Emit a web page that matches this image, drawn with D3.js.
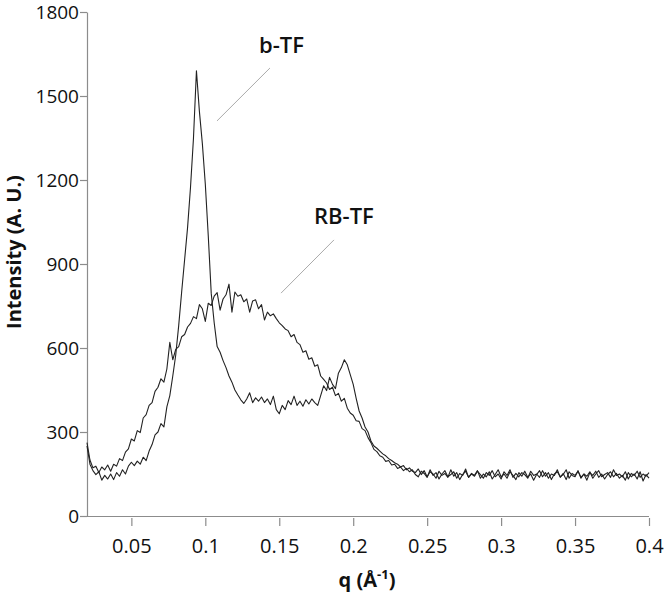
<!DOCTYPE html>
<html>
<head>
<meta charset="utf-8">
<script src="https://cdn.jsdelivr.net/npm/d3@7"></script>
<style>
  body { margin: 0; background: #fff; }
  svg { display: block; font-family: "Open Sans", sans-serif; }
</style>
</head>
<body>
<svg id="chart" width="666" height="600"></svg>
<script>
// q grid of the scan (A^-1)
var qStart = 0.02, qStep = 0.002;

// b-TF intensity
var bTF = [
  250,185,162,148,158,128,145,132,150,130,155,142,165,150,178,192,180,196,185,210,
  198,232,255,290,300,330,318,390,430,500,575,680,800,915,1030,1175,1350,1590,1445,1330,
  1185,1000,795,690,605,585,555,530,500,478,450,432,415,402,418,440,405,422,410,425,
  405,418,398,428,380,365,395,380,412,398,428,395,410,392,415,400,418,405,395,430,
  465,448,495,470,455,510,530,558,540,505,470,420,375,350,318,300,268,250,242,232,
  222,215,205,198,190,185,175,180,165,172,160,
  155,168,148,162,140,158,150,135,160,145,
  152,138,165,142,155,130,148,160,138,152,
  145,162,135,150,140,158,132,148,165,140,
  150,135,158,145,130,155,142,160,138,150,
  128,148,162,140,155,135,150,145,165,138,
  152,130,158,145,140,162,135,150,128,155,
  145,160,138,150,132,148,158,140,152,135,
  145,128,155,140,150,132,158,125,148,135
];

// RB-TF intensity
var rbTF = [
  262,200,172,178,155,175,165,182,160,185,178,205,198,228,240,275,268,305,298,350,
  362,395,405,445,460,490,478,525,620,558,595,605,640,648,675,688,712,705,755,740,
  695,760,752,785,798,735,775,790,828,728,800,785,790,765,775,728,768,772,740,755,
  700,728,715,722,705,690,680,668,662,640,648,620,612,585,590,560,565,535,540,500,
  488,475,452,460,430,438,410,420,385,368,360,340,338,312,305,280,262,238,230,215,
  210,195,198,182,185,170,175,162,170,158,165,
  148,140,160,152,138,165,145,155,132,150,
  162,140,148,158,135,152,145,168,138,150,
  142,160,148,135,155,145,162,140,150,132,
  158,145,165,138,152,140,155,148,135,160,
  145,150,138,162,142,155,130,150,158,140,
  148,165,135,152,145,160,138,150,142,158,
  135,150,162,140,148,155,138,165,145,150,
  140,158,132,152,145,160,138,150,142,155
];

var xTicks = [0.05, 0.1, 0.15, 0.2, 0.25, 0.3, 0.35, 0.4];
var yTicks = [0, 300, 600, 900, 1200, 1500, 1800];

// labels with leader lines, in data units
var labels = [
  {text: "b-TF",  q: 0.1363, v: 1654, q1: 0.1437, v1: 1600, q2: 0.1079, v2: 1411},
  {text: "RB-TF", q: 0.1735, v: 1043, q1: 0.187,  v1: 986,  q2: 0.1512, v2: 796}
];

var svg = d3.select("#chart");
var axisColor = "#8c8c8c";

var x = d3.scaleLinear().domain([0.02, 0.4]).range([87, 649]);
var y = d3.scaleLinear().domain([0, 1800]).range([516, 12]);

function toPoints(vals) {
  return vals.map(function(v, i) { return [qStart + i * qStep, v]; });
}

var line = d3.line()
    .x(function(d) { return x(d[0]); })
    .y(function(d) { return y(d[1]); });

// y axis
var gy = svg.append("g")
    .attr("transform", "translate(87,0)")
    .call(d3.axisLeft(y).tickValues(yTicks).tickSize(7).tickSizeOuter(0).tickPadding(1)
      .tickFormat(d3.format("d")));
gy.select(".domain").attr("stroke", axisColor).attr("stroke-width", 1.2);
gy.selectAll(".tick line").attr("stroke", axisColor).attr("stroke-width", 1.2);
gy.selectAll("text").attr("fill", "#111").style("font-size", "19px")
    .style("font-family", "'Open Sans', sans-serif");

// x axis line
svg.append("line")
    .attr("x1", 87).attr("x2", 649)
    .attr("y1", 516.5).attr("y2", 516.5)
    .attr("stroke", axisColor).attr("stroke-width", 1.2);

var gx = svg.append("g")
    .attr("transform", "translate(0,518)")
    .call(d3.axisBottom(x).tickValues(xTicks).tickSize(8).tickPadding(13)
      .tickFormat(function(d) { return String(d); }));
gx.select(".domain").remove();
gx.selectAll(".tick line").attr("stroke", axisColor).attr("stroke-width", 1.2);
gx.selectAll("text").attr("fill", "#111").style("font-size", "20px")
    .style("font-family", "'Open Sans', sans-serif");

// curves
[bTF, rbTF].forEach(function(s) {
  svg.append("path")
      .datum(toPoints(s))
      .attr("fill", "none")
      .attr("stroke", "#222")
      .attr("stroke-width", 1.1)
      .attr("stroke-linejoin", "round")
      .attr("d", line);
});

// labels
labels.forEach(function(l) {
  svg.append("line")
      .attr("x1", x(l.q1)).attr("y1", y(l.v1))
      .attr("x2", x(l.q2)).attr("y2", y(l.v2))
      .attr("stroke", "#aaa").attr("stroke-width", 1);
  svg.append("text")
      .attr("x", x(l.q)).attr("y", y(l.v))
      .style("font-size", "22px").style("font-weight", 600)
      .attr("fill", "#111")
      .text(l.text);
});

// axis titles
svg.append("text")
    .attr("transform", "translate(21,252) rotate(-90)")
    .attr("text-anchor", "middle")
    .style("font-size", "20px").style("font-weight", 700)
    .attr("fill", "#111")
    .text("Intensity (A. U.)");

var xt = svg.append("text")
    .attr("x", 367).attr("y", 587)
    .attr("text-anchor", "middle")
    .style("font-size", "20px").style("font-weight", 700)
    .attr("fill", "#111");
xt.append("tspan").text("q (Å");
xt.append("tspan").attr("dy", -8).style("font-size", "13px").text("-1");
xt.append("tspan").attr("dy", 8).text(")");
</script>
</body>
</html>
